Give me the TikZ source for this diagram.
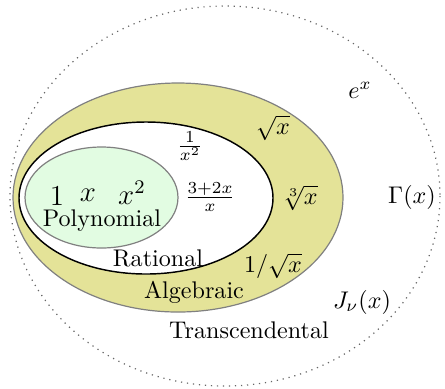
\documentclass[tikz,border=0pt]{standalone}
\usepackage{amsmath}
\definecolor{algfill}{RGB}{228,227,152}
\definecolor{polyfill}{RGB}{226,252,226}
\begin{document}
\begin{tikzpicture}[x=0.415pt,y=-0.415pt,
  lbl/.style={inner sep=0pt,font=\normalsize},
  biglbl/.style={inner sep=0pt,font=\large}]
\useasboundingbox (0,0) rectangle (445,388);
% Transcendental (dotted)
\draw[dotted,gray!80!black,line width=0.5pt] (225,196) ellipse [x radius=215, y radius=190];
% Algebraic
\draw[fill=algfill,draw=gray,line width=0.5pt] (178,197.5) ellipse [x radius=165, y radius=114.5];
% Rational
\draw[fill=white,draw=black,line width=0.6pt] (146,198) ellipse [x radius=127, y radius=76];
% Polynomial
\draw[fill=polyfill,draw=gray,line width=0.5pt] (101.5,197.5) ellipse [x radius=76.5, y radius=50.5];
% labels
\node[lbl] (ex) at (360,90) {$e^x$};
\node[lbl] (sqrtx) at (273,128) {$\sqrt{x}$};
\node[lbl] (invx2) at (190,146) {$\frac{1}{x^2}$};
\node[lbl] (frac) at (210,197) {$\frac{3+2x}{x}$};
\node[lbl] (cbrt) at (300,198) {$\sqrt[3]{x}$};
\node[lbl] (gamma) at (412,197) {$\Gamma(x)$};
\node[biglbl] (one) at (57,196) {$1$};
\node[biglbl] (xx) at (88,195) {$x$};
\node[biglbl] (x2) at (132,193) {$x^2$};
\node[lbl] (poly) at (102,221) {Polynomial};
\node[lbl] (rat) at (158,258) {Rational};
\node[lbl] (invsqrt) at (273,266) {$1/\sqrt{x}$};
\node[lbl] (alg) at (194,292) {Algebraic};
\node[lbl] (bessel) at (362,302) {$J_\nu(x)$};
\node[lbl] (trans) at (249,330) {Transcendental};
\end{tikzpicture}
\end{document}
